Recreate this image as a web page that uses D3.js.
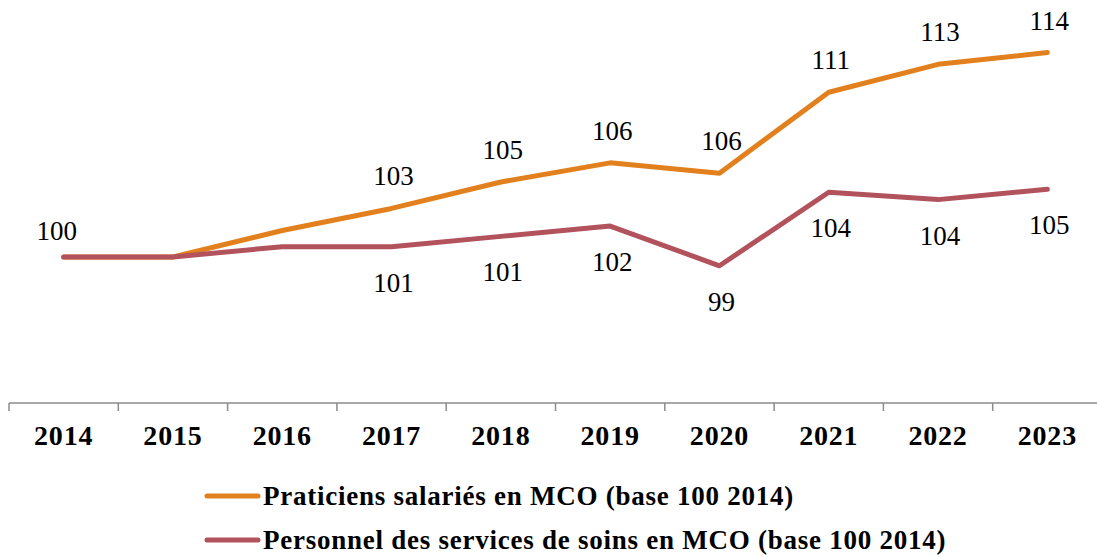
<!DOCTYPE html>
<html lang="fr">
<head>
  <meta charset="UTF-8">
  <title>Praticiens et personnel soignant en MCO</title>
  <script src="https://d3js.org/d3.v7.min.js"></script>
  <style>
    body { margin: 0; padding: 0; background: #fff; }
    svg { display: block; }
    text { font-family: "Liberation Serif", "DejaVu Serif", serif; }
    .serie { fill: none; stroke-width: 5px; stroke-linejoin: round; stroke-linecap: round; }
    .etiquette { font-size: 27px; fill: #000; text-anchor: middle; }
    .axe-x text { font-size: 28px; font-weight: bold; fill: #000; letter-spacing: 0.8px; }
    .legende text { font-size: 27px; font-weight: bold; fill: #000; letter-spacing: 0.75px; }
  </style>
</head>
<body>
  <svg width="1097" height="557"></svg>
  <script>
    // --- données ---
    const annees = ["2014", "2015", "2016", "2017", "2018", "2019", "2020", "2021", "2022", "2023"];
    const praticiens = [100, 100, 101.8, 103.3, 105.1, 106.4, 105.7, 111.2, 113.1, 113.9];
    const personnel = [100, 100, 100.7, 100.7, 101.4, 102.1, 99.4, 104.4, 103.9, 104.6];
    // étiquettes affichées (null = pas d'étiquette)
    const etiqPraticiens = ["100", null, null, "103", "105", "106", "106", "111", "113", "114"];
    const etiqPersonnel = [null, null, null, "101", "101", "102", "99", "104", "104", "105"];
    const nomsSeries = [
      "Praticiens salariés en MCO (base 100 2014)",
      "Personnel des services de soins en MCO (base 100 2014)"
    ];

    const couleurs = ["#E2801E", "#B1525D"];
    const police = "'Liberation Serif', 'DejaVu Serif', serif";

    const svg = d3.select("svg");

    const x = d3.scaleBand().domain(annees).range([9, 1102]);
    const y = d3.scaleLinear().domain([90, 117]).range([404, 7]);
    const cx = d => x(d) + x.bandwidth() / 2;

    // axe horizontal
    const axe = svg.append("g").attr("class", "axe-x");
    axe.append("line")
      .attr("x1", 9).attr("x2", 1102)
      .attr("y1", 403).attr("y2", 403)
      .attr("stroke", "#8c8c8c").attr("stroke-width", 1.5);
    axe.selectAll("line.tick")
      .data(annees)
      .enter().append("line")
      .attr("class", "tick")
      .attr("x1", d => x(d)).attr("x2", d => x(d))
      .attr("y1", 403).attr("y2", 411)
      .attr("stroke", "#8c8c8c").attr("stroke-width", 1.5);
    axe.selectAll("text")
      .data(annees)
      .enter().append("text")
      .attr("x", d => cx(d))
      .attr("y", 445)
      .attr("text-anchor", "middle")
      .attr("font-family", police)
      .text(d => d);

    // courbes
    const ligne = d3.line()
      .x((d, i) => cx(annees[i]))
      .y(d => y(d));

    const series = [
      { valeurs: praticiens, etiq: etiqPraticiens, couleur: couleurs[0], dy: -23 },
      { valeurs: personnel, etiq: etiqPersonnel, couleur: couleurs[1], dy: 45 }
    ];

    // la courbe du personnel est tracée au-dessus
    series.forEach(s => {
      svg.append("path")
        .datum(s.valeurs)
        .attr("class", "serie")
        .attr("stroke", s.couleur)
        .attr("d", ligne);
    });

    series.forEach(s => {
      svg.selectAll(null)
        .data(s.valeurs.map((v, i) => ({ v, i, t: s.etiq[i] })).filter(d => d.t))
        .enter().append("text")
        .attr("class", "etiquette")
        .attr("font-family", police)
        .attr("x", d => cx(annees[d.i]) + (d.i === 0 ? -7 : 2))
        .attr("y", d => y(d.v) + s.dy + (d.i === 0 ? 6 : 0))
        .text(d => d.t);
    });

    // légende
    const leg = svg.append("g").attr("class", "legende");
    nomsSeries.forEach((nom, i) => {
      const yy = 496 + i * 44;
      leg.append("line")
        .attr("x1", 207).attr("x2", 258)
        .attr("y1", yy).attr("y2", yy)
        .attr("stroke", couleurs[i])
        .attr("stroke-width", 5)
        .attr("stroke-linecap", "round");
      leg.append("text")
        .attr("x", 263)
        .attr("y", yy + 9)
        .attr("font-family", police)
        .text(nom);
    });
  </script>
</body>
</html>
